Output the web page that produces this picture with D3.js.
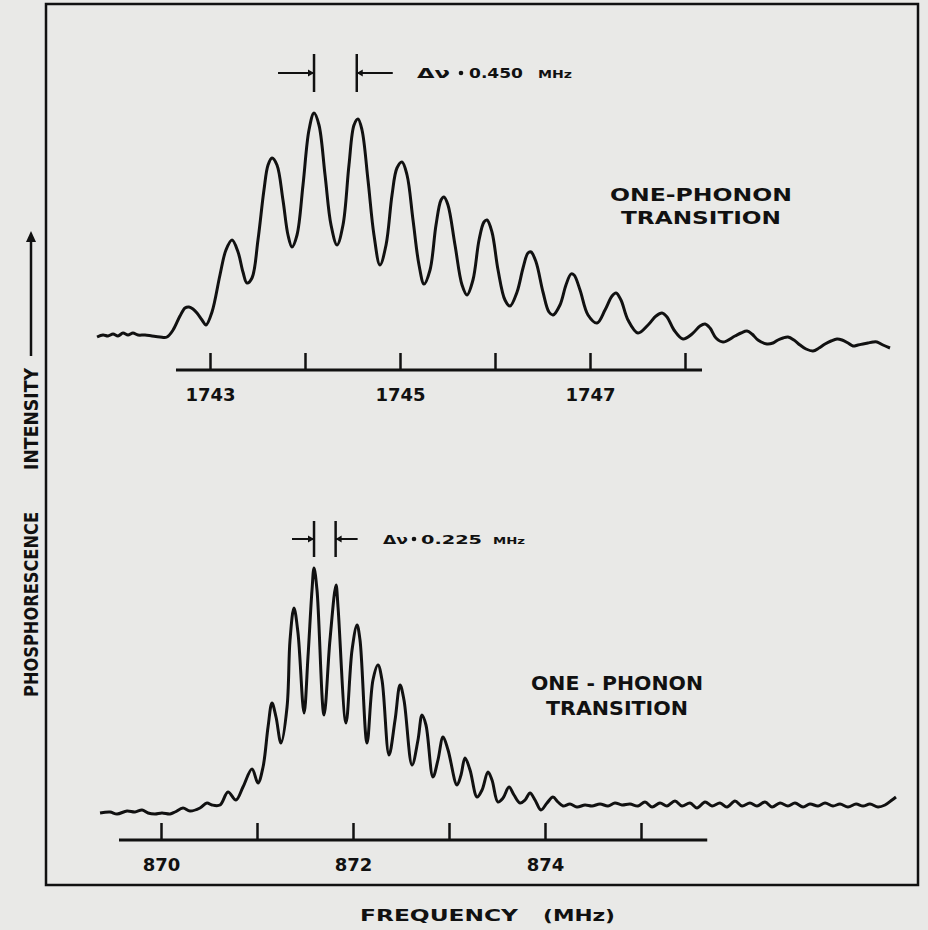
<!DOCTYPE html>
<html>
<head>
<meta charset="utf-8">
<script src="https://cdn.jsdelivr.net/npm/d3@7"></script>
<style>
  body { margin: 0; background: #e9e9e7; }
  svg { display: block; }
  text { font-family: "DejaVu Sans", sans-serif; font-weight: bold; fill: #111; }
</style>
</head>
<body>
<div id="chart"></div>
<script>
// upper trace, 1743-1748 MHz region (intensity in arbitrary units)
var topFreq = [1741.811, 1741.874, 1741.926, 1741.979, 1742.032, 1742.084, 1742.137, 1742.189, 1742.242, 1742.316,
  1742.389, 1742.474, 1742.547, 1742.611, 1742.684, 1742.737, 1742.779, 1742.821, 1742.863, 1742.916, 1742.958,
  1743.021, 1743.105, 1743.168, 1743.232, 1743.295, 1743.347, 1743.389, 1743.442, 1743.505, 1743.568,
  1743.611, 1743.653, 1743.705, 1743.768, 1743.821, 1743.863, 1743.916, 1743.979, 1744.042, 1744.095,
  1744.147, 1744.211, 1744.274, 1744.337, 1744.400, 1744.463, 1744.516, 1744.558, 1744.600, 1744.663,
  1744.726, 1744.789, 1744.853, 1744.916, 1744.968, 1745.021, 1745.074, 1745.137, 1745.200, 1745.253,
  1745.316, 1745.379, 1745.432, 1745.463, 1745.505, 1745.579, 1745.653, 1745.705, 1745.768, 1745.832,
  1745.884, 1745.916, 1745.968, 1746.032, 1746.105, 1746.158, 1746.232, 1746.295, 1746.347, 1746.379,
  1746.432, 1746.505, 1746.568, 1746.611, 1746.684, 1746.747, 1746.800, 1746.832, 1746.895, 1746.979,
  1747.074, 1747.158, 1747.232, 1747.274, 1747.326, 1747.400, 1747.505, 1747.611, 1747.695, 1747.758,
  1747.811, 1747.884, 1747.979, 1748.074, 1748.158, 1748.211, 1748.263, 1748.326, 1748.400, 1748.526,
  1748.589, 1748.653, 1748.705, 1748.768, 1748.863, 1748.926, 1748.979, 1749.032, 1749.084, 1749.147,
  1749.211, 1749.274, 1749.347, 1749.411, 1749.474, 1749.537, 1749.600, 1749.653, 1749.716, 1749.768,
  1749.821, 1749.874, 1749.926, 1749.979, 1750.021, 1750.084, 1750.158];
var topIntensity = [18, 20, 19, 21, 19, 22, 20, 22, 20, 20, 19, 18, 18, 25, 39, 47, 48, 46, 42, 35, 30,
  43, 80, 105, 115, 103, 83, 72, 77, 115, 165, 190, 197, 190, 155, 120, 108, 120, 170, 225, 242,
  230, 180, 130, 110, 130, 190, 230, 236, 225, 175, 120, 90, 110, 160, 187, 193, 180, 135, 90, 71,
  85, 130, 155, 158, 150, 110, 70, 60, 75, 115, 133, 135, 123, 85, 55, 49, 63, 87, 102, 103,
  93, 63, 43, 40, 50, 70, 81, 80, 65, 40, 32, 45, 59, 62, 55, 35, 22, 30, 39, 42,
  38, 25, 16, 21, 29, 31, 27, 17, 13, 19, 22, 24, 21, 15, 11, 12, 15, 17, 18, 15,
  10, 6, 4, 7, 11, 14, 16, 15, 12, 9, 10, 11, 12, 13, 13, 10, 7];

// lower trace, 870-875 MHz region
var bottomFreq = [869.365, 869.469, 869.542, 869.646, 869.729, 869.802, 869.865, 869.937, 870.010, 870.094,
  870.146, 870.229, 870.302, 870.406, 870.479, 870.531, 870.615, 870.698, 870.781, 870.854,
  870.948, 871.010, 871.063, 871.115, 871.156, 871.198, 871.250, 871.313, 871.344, 871.385,
  871.427, 871.490, 871.531, 871.573, 871.594, 871.625, 871.698, 871.760, 871.823, 871.844,
  871.927, 871.990, 872.042, 872.073, 872.146, 872.208, 872.260, 872.302, 872.375, 872.438,
  872.490, 872.531, 872.615, 872.677, 872.719, 872.760, 872.833, 872.885, 872.938, 872.990,
  873.083, 873.125, 873.167, 873.219, 873.292, 873.344, 873.406, 873.448, 873.510, 873.563,
  873.625, 873.677, 873.740, 873.792, 873.844, 873.896, 873.958, 874.021, 874.083, 874.135,
  874.188, 874.260, 874.333, 874.417, 874.490, 874.573, 874.656, 874.729, 874.802, 874.885,
  874.969, 875.042, 875.115, 875.198, 875.271, 875.354, 875.427, 875.510, 875.583, 875.667,
  875.740, 875.823, 875.896, 875.979, 876.052, 876.135, 876.208, 876.292, 876.365, 876.448,
  876.531, 876.604, 876.688, 876.760, 876.844, 876.917, 877.000, 877.073, 877.156, 877.240,
  877.313, 877.385, 877.469, 877.542, 877.615, 877.656];
var bottomIntensity = [12, 13, 11, 14, 13, 15, 12, 11, 12, 11, 13, 17, 14, 17, 22, 20, 20, 33, 25, 38,
  56, 42, 58, 98, 122, 108, 82, 118, 185, 217, 192, 112, 168, 235, 257, 235, 110, 185, 240, 218,
  102, 175, 200, 185, 82, 145, 160, 145, 70, 105, 140, 125, 60, 85, 110, 100, 48, 65, 88, 75,
  40, 50, 67, 55, 28, 35, 53, 45, 23, 27, 38, 30, 22, 25, 32, 25, 15, 22, 28, 23,
  19, 21, 18, 20, 19, 21, 19, 22, 20, 21, 19, 23, 18, 22, 19, 24, 19, 22, 17, 23,
  19, 22, 18, 24, 19, 22, 19, 23, 18, 22, 19, 22, 18, 21, 19, 22, 19, 21, 18, 21,
  19, 21, 18, 20, 25, 28];

var topTicks = [1743, 1744, 1745, 1746, 1747, 1748];
var topTickLabels = ["1743", "", "1745", "", "1747", ""];
var bottomTicks = [870, 871, 872, 873, 874, 875];
var bottomTickLabels = ["870", "", "872", "", "874", ""];

// line spacing markers (two neighbouring peaks)
var topSpacing = [1744.095, 1744.545];
var bottomSpacing = [871.594, 871.819];
var topSpacingLabel = "0.450";
var bottomSpacingLabel = "0.225";

var width = 928, height = 930;
var ink = "#111";

var svg = d3.select("#chart").append("svg")
  .attr("width", width)
  .attr("height", height);

svg.append("rect")
  .attr("x", 46).attr("y", 4)
  .attr("width", 872).attr("height", 881)
  .attr("fill", "none")
  .attr("stroke", ink)
  .attr("stroke-width", 2.5);

var xTop = d3.scaleLinear().domain([1743, 1748]).range([210, 685]);
var yTop = d3.scaleLinear().domain([0, 250]).range([355, 105]);
var xBot = d3.scaleLinear().domain([870, 875]).range([161, 641]);
var yBot = d3.scaleLinear().domain([0, 260]).range([825, 565]);

function fitText(x, y, fs, len, s) {
  return svg.append("text")
    .attr("x", x).attr("y", y)
    .style("font-size", fs + "px")
    .attr("textLength", len).attr("lengthAdjust", "spacingAndGlyphs")
    .text(s);
}

function drawPanel(x, y, freq, inten, ticks, tickLabels, axisY, axisExtent, spacing, spacingLabel, mark) {
  var pts = freq.map(function (f, i) { return [f, inten[i]]; });
  var line = d3.line()
    .x(function (d) { return x(d[0]); })
    .y(function (d) { return y(d[1]); })
    .curve(d3.curveCatmullRom.alpha(0.5));

  svg.append("path")
    .datum(pts)
    .attr("d", line)
    .attr("fill", "none")
    .attr("stroke", ink)
    .attr("stroke-width", 3)
    .attr("stroke-linejoin", "round");

  var axis = d3.axisBottom(x)
    .tickValues(ticks)
    .tickSize(-17)
    .tickSizeOuter(0)
    .tickFormat(function (d, i) { return tickLabels[i]; });

  var g = svg.append("g")
    .attr("transform", "translate(0," + axisY + ")")
    .call(axis);
  g.select(".domain").remove();
  g.selectAll(".tick line").attr("stroke", ink).attr("stroke-width", 2.5);
  g.selectAll(".tick text")
    .attr("y", 31).attr("dy", null)
    .attr("fill", ink)
    .style("font-family", "DejaVu Sans, sans-serif")
    .style("font-weight", "bold")
    .style("font-size", "18px");
  g.append("line")
    .attr("x1", x(axisExtent[0])).attr("x2", x(axisExtent[1]))
    .attr("stroke", ink).attr("stroke-width", 3);

  // delta-nu marker
  var a = x(spacing[0]), b = x(spacing[1]);
  var my = mark.y;
  svg.append("line").attr("x1", a).attr("x2", a).attr("y1", my - mark.h).attr("y2", my + mark.h)
    .attr("stroke", ink).attr("stroke-width", 2.5);
  svg.append("line").attr("x1", b).attr("x2", b).attr("y1", my - mark.h).attr("y2", my + mark.h)
    .attr("stroke", ink).attr("stroke-width", 2.5);
  svg.append("line").attr("x1", a - mark.arm).attr("x2", a).attr("y1", my).attr("y2", my)
    .attr("stroke", ink).attr("stroke-width", 2);
  svg.append("line").attr("x1", b).attr("x2", b + mark.arm).attr("y1", my).attr("y2", my)
    .attr("stroke", ink).attr("stroke-width", 2);
  svg.append("path").attr("d", "M" + a + "," + my + "l-6,-3.5v7z").attr("fill", ink);
  svg.append("path").attr("d", "M" + b + "," + my + "l6,-3.5v7z").attr("fill", ink);

  var ty = my + mark.fs * 0.36;
  fitText(mark.t[0], ty, mark.fs, mark.t[1], "Δν");
  svg.append("circle").attr("cx", mark.t[2]).attr("cy", ty - mark.fs * 0.36).attr("r", 2.3).attr("fill", ink);
  fitText(mark.t[3], ty, mark.fs, mark.t[4], spacingLabel);
  fitText(mark.t[5], ty, mark.fs - 4, mark.t[6], "MHz");
}

drawPanel(xTop, yTop, topFreq, topIntensity, topTicks, topTickLabels, 370, [1742.642, 1748.179],
  topSpacing, topSpacingLabel, { y: 73, h: 19, arm: 36, fs: 14, t: [417, 33, 461, 469, 54, 538, 34] });
drawPanel(xBot, yBot, bottomFreq, bottomIntensity, bottomTicks, bottomTickLabels, 840, [869.5625, 875.69],
  bottomSpacing, bottomSpacingLabel, { y: 539, h: 18, arm: 22, fs: 13, t: [383, 25, 414, 421, 61, 493, 32] });

// panel labels
function label(cx, y1, y2, fs, w1, w2, s1) {
  svg.append("text").attr("x", cx).attr("y", y1).attr("text-anchor", "middle")
    .style("font-size", fs + "px")
    .attr("textLength", w1).attr("lengthAdjust", "spacingAndGlyphs").text(s1);
  svg.append("text").attr("x", cx).attr("y", y2).attr("text-anchor", "middle")
    .style("font-size", fs + "px")
    .attr("textLength", w2).attr("lengthAdjust", "spacingAndGlyphs").text("TRANSITION");
}
label(701, 201, 224, 18, 182, 160, "ONE-PHONON");
label(617, 690, 715, 19, 172, 142, "ONE - PHONON");

fitText(360, 921, 16, 158, "FREQUENCY");
fitText(543, 921, 16, 72, "(MHz)");

// y label with arrow
var yl = svg.append("g").attr("transform", "translate(38,697) rotate(-90)");
yl.append("text").attr("x", 0).attr("y", 0)
  .style("font-size", "19px")
  .attr("textLength", 185).attr("lengthAdjust", "spacingAndGlyphs")
  .text("PHOSPHORESCENCE");
yl.append("text").attr("x", 227).attr("y", 0)
  .style("font-size", "19px")
  .attr("textLength", 102).attr("lengthAdjust", "spacingAndGlyphs")
  .text("INTENSITY");
yl.append("line").attr("x1", 341).attr("x2", 458).attr("y1", -7).attr("y2", -7)
  .attr("stroke", ink).attr("stroke-width", 2.5);
yl.append("path").attr("d", "M466,-7l-11,-5v10z").attr("fill", ink);
</script>
</body>
</html>
